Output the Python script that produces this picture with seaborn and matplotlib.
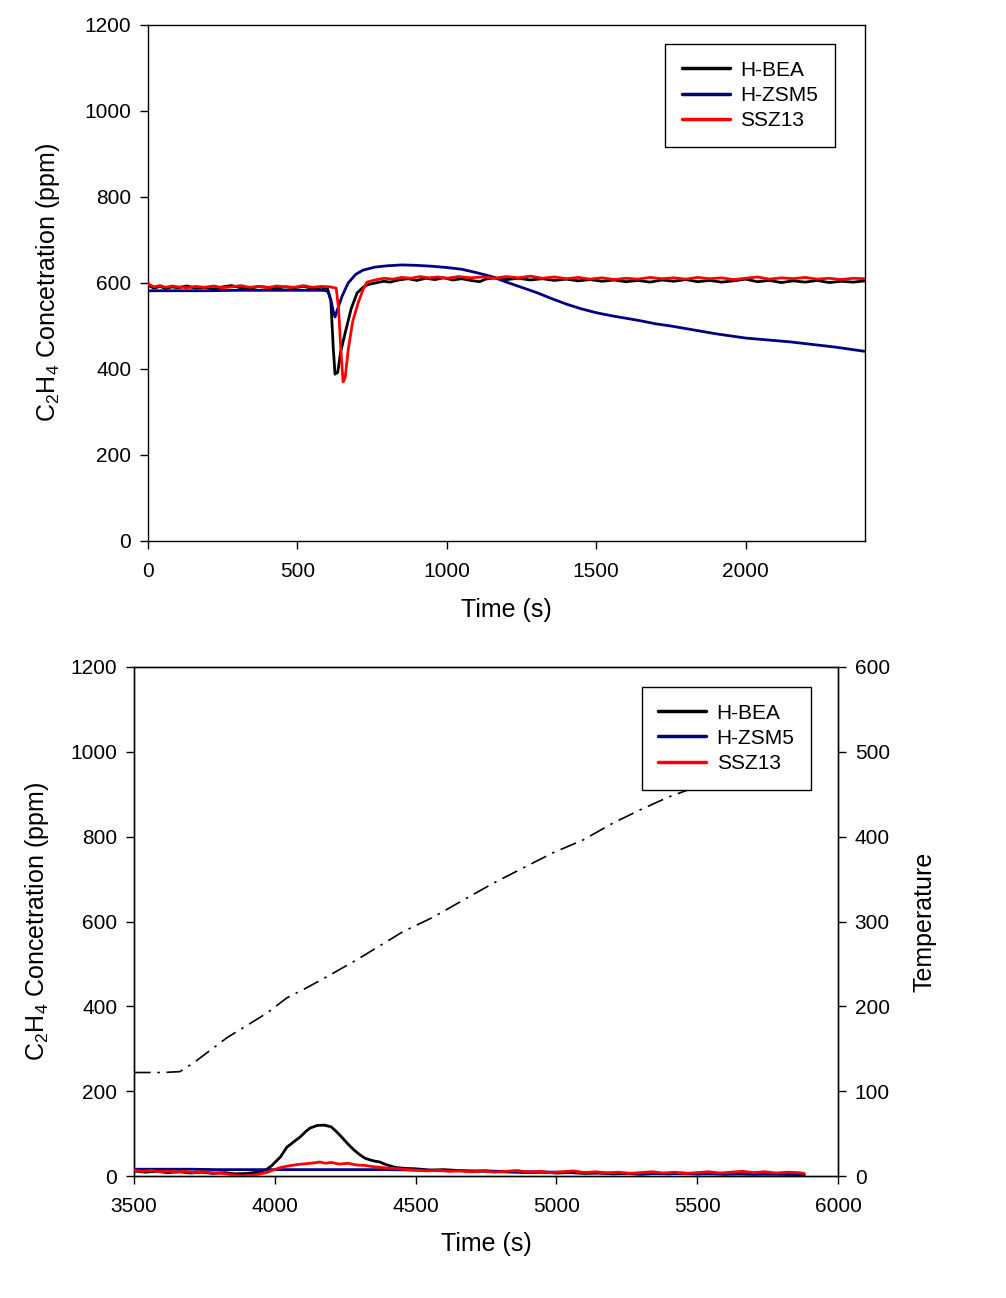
import numpy as np
import pandas as pd
import matplotlib
matplotlib.use("Agg")
import matplotlib.pyplot as plt
import seaborn as sns

# ---------------- data: top panel (adsorption) ----------------
bea_top_t = [0, 20, 40, 60, 80, 100, 130, 160, 190, 220, 250, 280, 310, 340, 370, 400, 430, 460, 490, 520, 550, 580, 600,
             612, 620, 626, 635, 645, 660, 680, 700, 720, 735, 760, 790, 810, 840, 870, 900, 930, 960, 990, 1020, 1050,
             1080, 1110, 1130, 1160, 1200, 1240, 1280, 1320, 1360, 1400, 1440, 1480, 1520, 1560, 1600, 1640, 1680, 1720,
             1760, 1800, 1840, 1880, 1920, 1960, 2000, 2040, 2080, 2120, 2160, 2200, 2240, 2280, 2320, 2360, 2400]
bea_top_c = [595, 588, 592, 587, 591, 589, 593, 588, 590, 586, 591, 594, 589, 587, 592, 590, 588, 591, 589, 592, 588, 590, 588,
             560, 450, 388, 392, 440, 484, 540, 577, 590, 596, 600, 604, 602, 607, 610, 606, 611, 608, 612, 607, 610,
             606, 603, 609, 612, 608, 611, 607, 610, 606, 609, 605, 608, 604, 607, 603, 606, 602, 607,
             604, 608, 603, 606, 602, 605, 609, 603, 606, 601, 605, 602, 606, 601, 604, 602, 605]

zsm_top_t = [0, 100, 200, 300, 400, 500, 590, 603, 612, 620, 626, 635, 650, 670, 695, 720, 760, 800, 850, 900, 950, 1000,
             1050, 1100, 1150, 1200, 1250, 1300, 1350, 1400, 1450, 1500, 1550, 1600, 1650, 1700, 1750, 1800, 1850, 1900,
             1950, 2000, 2050, 2100, 2150, 2200, 2250, 2300, 2350, 2400]
zsm_top_c = [582, 582, 582, 583, 583, 583, 583, 580, 560, 535, 521, 540, 570, 600, 620, 630, 637, 640, 642, 641, 639, 636,
             632, 624, 615, 602, 590, 578, 564, 551, 540, 531, 524, 518, 512, 505, 500, 494, 488, 482,
             477, 472, 469, 466, 463, 459, 455, 451, 446, 441]

ssz_top_t = [0, 20, 40, 60, 80, 100, 130, 160, 190, 220, 250, 280, 310, 340, 370, 400, 430, 460, 490, 520, 550, 580, 610,
             630, 638, 645, 653, 660, 670, 685, 703, 720, 733, 760, 790, 820, 850, 880, 910, 940, 970, 1000, 1040, 1080,
             1120, 1160, 1200, 1240, 1280, 1320, 1360, 1400, 1440, 1480, 1520, 1560, 1600, 1640, 1680, 1720, 1760, 1800,
             1840, 1880, 1920, 1960, 2000, 2040, 2080, 2120, 2160, 2200, 2240, 2280, 2320, 2360, 2400]
ssz_top_c = [598, 591, 594, 590, 593, 591, 589, 592, 590, 593, 589, 591, 594, 590, 592, 589, 593, 591, 590, 594, 590, 592, 591,
             588, 540, 450, 370, 380, 444, 510, 553, 585, 602, 607, 611, 609, 613, 611, 615, 612, 614, 611, 615, 612,
             614, 611, 615, 612, 616, 611, 614, 610, 613, 609, 612, 608, 611, 609, 613, 610, 612, 609,
             613, 610, 612, 608, 611, 614, 609, 612, 610, 613, 609, 611, 608, 611, 610]

# ---------------- data: bottom panel (TPD) ----------------
bea_bot_t = [3500, 3540, 3580, 3620, 3660, 3700, 3740, 3780, 3820, 3860, 3900, 3940, 3970, 3990, 4020, 4043, 4070, 4090,
             4110, 4125, 4150, 4175, 4200, 4220, 4240, 4256, 4280, 4302, 4320, 4338, 4355, 4373, 4390, 4409, 4430, 4460,
             4500, 4550, 4600, 4650, 4700, 4750, 4800, 4850, 4900, 4950, 5000, 5050, 5100, 5150, 5200, 5250, 5300, 5350,
             5400, 5450, 5500, 5550, 5600, 5650, 5700, 5750, 5800, 5850, 5880]
bea_bot_c = [12, 9, 11, 8, 10, 7, 9, 6, 8, 5, 6, 9, 15, 25, 45, 68, 82, 92,
             105, 113, 119, 120, 116, 104, 90, 78, 62, 50, 42, 38, 35, 33, 28, 24, 20, 18,
             17, 14, 15, 13, 11, 12, 10, 9, 8, 9, 7, 8, 6, 7, 5, 6, 4, 6,
             5, 7, 5, 6, 4, 6, 5, 6, 5, 4, 3]

zsm_bot_t = [3500, 3600, 3700, 3800, 3900, 4000, 4100, 4200, 4300, 4400, 4500, 4600, 4700, 4800, 4900, 5000, 5100, 5200,
             5300, 5400, 5500, 5600, 5700, 5800, 5880]
zsm_bot_c = [16, 16, 16, 15, 15, 15, 15, 15, 15, 15, 14, 13, 12, 11, 10, 9, 8, 7,
             6, 6, 5, 5, 4, 4, 3]

ssz_bot_t = [3500, 3530, 3560, 3590, 3620, 3650, 3680, 3710, 3740, 3770, 3800, 3830, 3860, 3887, 3910, 3940, 3970, 3994,
             4020, 4050, 4080, 4110, 4140, 4160, 4180, 4200, 4230, 4260, 4290, 4320, 4350, 4380, 4410, 4440, 4470, 4500,
             4540, 4580, 4620, 4660, 4700, 4740, 4780, 4820, 4860, 4900, 4940, 4980, 5020, 5060, 5100, 5140, 5180, 5220,
             5260, 5300, 5340, 5380, 5420, 5460, 5500, 5540, 5580, 5620, 5660, 5700, 5740, 5780, 5820, 5860, 5880]
ssz_bot_c = [14, 11, 13, 10, 12, 9, 11, 8, 10, 8, 7, 5, 2, 0, 1, 4, 8, 14,
             20, 24, 27, 29, 31, 33, 30, 32, 28, 30, 26, 25, 22, 20, 18, 17, 15, 14,
             12, 13, 11, 12, 10, 12, 9, 11, 13, 9, 11, 8, 10, 12, 8, 10, 7, 9,
             6, 8, 10, 7, 9, 6, 8, 10, 7, 9, 11, 8, 10, 7, 9, 8, 6]

temp_t = [3500, 3600, 3663, 3710, 3830, 3972, 4043, 4114, 4196, 4292, 4455, 4562, 4668, 4775, 4881, 4988, 5094, 5201,
          5300, 5400, 5492, 5600, 5700, 5800, 5880]
temp_c = [122, 122, 123, 133, 163, 192, 210, 222, 237, 255, 288, 305, 325, 345, 363, 381, 396, 416,
          432, 447, 458, 474, 489, 504, 516]

series_names = ["H-BEA", "H-ZSM5", "SSZ13"]
palette = {"H-BEA": "#000000", "H-ZSM5": "#000080", "SSZ13": "#FF0000"}

x_ticks_top = [0, 500, 1000, 1500, 2000]
x_ticks_bot = [3500, 4000, 4500, 5000, 5500, 6000]
y_ticks = [0, 200, 400, 600, 800, 1000, 1200]
t_ticks = [0, 100, 200, 300, 400, 500, 600]


def long_df(ts, cs):
    frames = []
    for name, t, c in zip(series_names, ts, cs):
        frames.append(pd.DataFrame({"Time": t, "Conc": c, "Catalyst": name}))
    return pd.concat(frames, ignore_index=True)


df_top = long_df([bea_top_t, zsm_top_t, ssz_top_t], [bea_top_c, zsm_top_c, ssz_top_c])
df_bot = long_df([bea_bot_t, zsm_bot_t, ssz_bot_t], [bea_bot_c, zsm_bot_c, ssz_bot_c])
df_temp = pd.DataFrame({"Time": temp_t, "Temp": temp_c})

sns.set_style("ticks")
plt.rcParams["font.family"] = ["Liberation Sans", "DejaVu Sans"]
plt.rcParams["mathtext.default"] = "regular"
plt.rcParams["axes.linewidth"] = 1.0
plt.rcParams["text.color"] = "black"
plt.rcParams["axes.labelcolor"] = "black"
plt.rcParams["xtick.color"] = "black"
plt.rcParams["ytick.color"] = "black"
plt.rcParams["legend.framealpha"] = 1.0

fig = plt.figure(figsize=(10.06, 12.98), dpi=100)
ax1 = fig.add_axes([148 / 1006, 1 - 541 / 1298, 717 / 1006, 516 / 1298])
ax2 = fig.add_axes([134 / 1006, 1 - 1176 / 1298, 704 / 1006, 509 / 1298])

ylabel = "C$_2$H$_4$ Concetration (ppm)"
leg_kw = dict(loc="upper right", frameon=True, fancybox=False, edgecolor="black", fontsize=15,
              handlelength=2.3, handletextpad=0.5, labelspacing=0.3, borderpad=0.8, borderaxespad=0.0,
              framealpha=1.0)

for ax, df, xt, lp in [(ax1, df_top, x_ticks_top, 16), (ax2, df_bot, x_ticks_bot, 14)]:
    sns.lineplot(data=df, x="Time", y="Conc", hue="Catalyst", hue_order=series_names, palette=palette,
                 estimator=None, sort=False, linewidth=2.0, ax=ax, zorder=3)
    ax.set_ylim(0, 1200)
    ax.set_yticks(y_ticks)
    ax.set_xticks(xt)
    ax.set_xlabel("Time (s)", fontsize=18, labelpad=12)
    ax.set_ylabel(ylabel, fontsize=18, labelpad=lp)
    ax.tick_params(axis="both", direction="out", length=6, width=1, labelsize=15, pad=6,
                   color="black", labelcolor="black")
    ax.tick_params(axis="x", pad=9)
    for s in ax.spines.values():
        s.set_visible(True)
        s.set_color("black")
        s.set_linewidth(1.0)

ax1.set_xlim(0, 2400)
ax2.set_xlim(3500, 6000)

leg1 = ax1.legend(bbox_to_anchor=(0.958, 0.963), **leg_kw)
leg1.get_frame().set_linewidth(1.0)
for line in leg1.get_lines():
    line.set_linewidth(2.5)

# temperature on secondary axis
axT = ax2.twinx()
sns.lineplot(data=df_temp, x="Time", y="Temp", color="black", linewidth=1.2, linestyle=(0, (10, 4, 1.5, 4)),
             ax=axT, sort=False, estimator=None)
axT.set_ylim(0, 600)
axT.set_yticks(t_ticks)
axT.set_xlim(3500, 6000)
axT.set_ylabel("Temperature", fontsize=18, labelpad=16)
axT.tick_params(axis="y", direction="out", length=6, width=1, labelsize=15, pad=6,
                color="black", labelcolor="black")
# concentration axes drawn above the temperature axes so its legend hides the line
ax2.set_zorder(axT.get_zorder() + 1)
ax2.patch.set_visible(False)
axT.patch.set_visible(True)
axT.patch.set_facecolor("white")

handles, labels = ax2.get_legend_handles_labels()
leg2 = ax2.legend(handles=handles, labels=labels, bbox_to_anchor=(0.962, 0.961), **leg_kw)
leg2.get_frame().set_linewidth(1.0)
leg2.set_zorder(20)
for line in leg2.get_lines():
    line.set_linewidth(2.5)

fig.savefig("out.png", dpi=100, facecolor="white")
